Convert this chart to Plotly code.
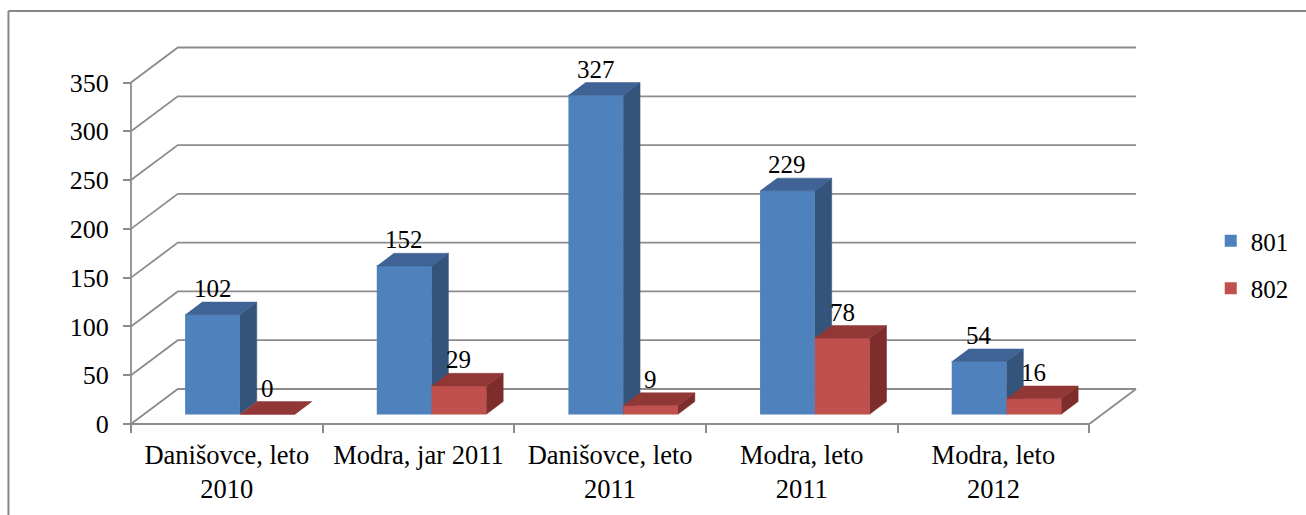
import plotly.graph_objects as go

# ---------------- data ----------------
categories = ["Danišovce, leto<br>2010", "Modra, jar 2011", "Danišovce, leto<br>2011",
              "Modra, leto<br>2011", "Modra, leto<br>2012"]
series_names = ["801", "802"]
values_801 = [102, 152, 327, 229, 54]
values_802 = [0, 29, 9, 78, 16]
y_ticks = [0, 50, 100, 150, 200, 250, 300, 350]

# ---------------- styling / layout ----------------
FIG_W, FIG_H = 1306, 515
FONT = "Liberation Serif, Times New Roman, serif"
GRID = "#8c8c8c"
BLUE = dict(front="#4F81BD", side="#34547C", top="#3E6394")
RED = dict(front="#C0504D", side="#7D2D2B", top="#913836")

# pixel geometry of the front plane
X0_PX, Y0_PX = 131, 424          # pixel of (x=-0.5, y=0)
CAT_PX = 192.4                    # pixels per category
UNIT_PX = 0.9757                  # pixels per value unit
L, R, T, B = 125, 1148, 42, 428   # plot area in pixels

DX = 47 / CAT_PX                  # full depth in x units
DY = 35 / UNIT_PX                 # full depth in y units
F1, F2 = 0.28, 0.64               # bar depth fractions
BW = 55 / CAT_PX                  # bar width in x units

x_range = [(L - X0_PX) / CAT_PX - 0.5, (R - X0_PX) / CAT_PX - 0.5]
y_range = [(Y0_PX - B) / UNIT_PX, (Y0_PX - T) / UNIT_PX]


def px_to_paper_x(px):
    return (px - L) / (R - L)


def px_to_paper_y(py):
    return (B - py) / (B - T)


n = len(categories)
centers = list(range(n))
x_left, x_right = -0.5, n - 0.5
ymax = y_ticks[-1]

fig = go.Figure()

# walls, gridlines, floor, front axis
gx, gy = [], []
for v in y_ticks:
    gx += [x_left, x_left + DX, x_right + DX, None]
    gy += [v, v + DY, v + DY, None]
gx += [x_left, x_right, x_right + DX, None, x_left, x_left]
gy += [0, 0, DY, None, 0, ymax]
fig.add_trace(go.Scatter(x=gx, y=gy, mode="lines", line=dict(color=GRID, width=1.8),
                         hoverinfo="skip", showlegend=False))


def add_bar(xl, xr, v, col):
    a1x, a1y = F1 * DX, F1 * DY
    a2x, a2y = F2 * DX, F2 * DY
    faces = [
        ([xl + a1x, xr + a1x, xr + a1x, xl + a1x], [a1y, a1y, v + a1y, v + a1y], col["front"]),
        ([xr + a1x, xr + a2x, xr + a2x, xr + a1x], [a1y, a2y, v + a2y, v + a1y], col["side"]),
        ([xl + a1x, xr + a1x, xr + a2x, xl + a2x], [v + a1y, v + a1y, v + a2y, v + a2y], col["top"]),
    ]
    for fx, fy, c in faces:
        fig.add_trace(go.Scatter(x=fx, y=fy, fill="toself", mode="lines", fillcolor=c,
                                 line=dict(color=c, width=0.5), hoverinfo="skip",
                                 showlegend=False))
    fig.add_annotation(x=(xl + xr) / 2 + a1x, y=v + a1y, text=str(v), showarrow=False,
                       yshift=26, font=dict(family=FONT, size=25, color="black"))


for i, c in enumerate(centers):
    add_bar(c - BW, c, values_801[i], BLUE)
    add_bar(c, c + BW, values_802[i], RED)

# legend entries
for name, col in zip(series_names, [BLUE, RED]):
    fig.add_trace(go.Bar(x=[None], y=[None], name=name, marker=dict(color=col["front"], line=dict(width=0)),
                         legendgroup=name))

fig.update_layout(
    width=FIG_W, height=FIG_H,
    margin=dict(l=L, r=FIG_W - R, t=T, b=FIG_H - B),
    paper_bgcolor="white", plot_bgcolor="rgba(0,0,0,0)",
    font=dict(family=FONT, size=25, color="black"),
    showlegend=True,
    legend=dict(x=px_to_paper_x(1215), y=px_to_paper_y(218), xanchor="left", yanchor="top",
                font=dict(family=FONT, size=25, color="black"), tracegroupgap=12,
                itemwidth=30, bgcolor="rgba(0,0,0,0)"),
    xaxis=dict(range=x_range, anchor="free", position=px_to_paper_y(Y0_PX),
               tickmode="array", tickvals=centers, ticktext=categories, ticks="",
               showgrid=False, zeroline=False, showline=False, ticklabelstandoff=12,
               tickfont=dict(family=FONT, size=26.5, color="black"),
               minor=dict(tickmode="array", tickvals=[x_left + k for k in range(n + 1)],
                          ticks="outside", ticklen=8, tickwidth=1.8, tickcolor=GRID, showgrid=False)),
    yaxis=dict(range=y_range, anchor="free", position=px_to_paper_x(X0_PX),
               tickmode="array", tickvals=y_ticks, ticks="outside", ticklen=8,
               tickwidth=1.8, tickcolor=GRID, showgrid=False, zeroline=False, showline=False,
               ticklabelstandoff=9,
               tickfont=dict(family=FONT, size=26, color="black")),
)

# outer chart frame
fig.add_shape(type="line", xref="paper", yref="paper",
              x0=px_to_paper_x(8), y0=px_to_paper_y(530), x1=px_to_paper_x(8), y1=px_to_paper_y(11),
              line=dict(color="#868686", width=2))
fig.add_shape(type="line", xref="paper", yref="paper",
              x0=px_to_paper_x(8), y0=px_to_paper_y(11), x1=px_to_paper_x(1320), y1=px_to_paper_y(11),
              line=dict(color="#868686", width=2))

fig.write_html("out.html", config={"displayModeBar": False},
               post_script="document.body.style.margin='0';document.body.style.overflow='hidden';")
